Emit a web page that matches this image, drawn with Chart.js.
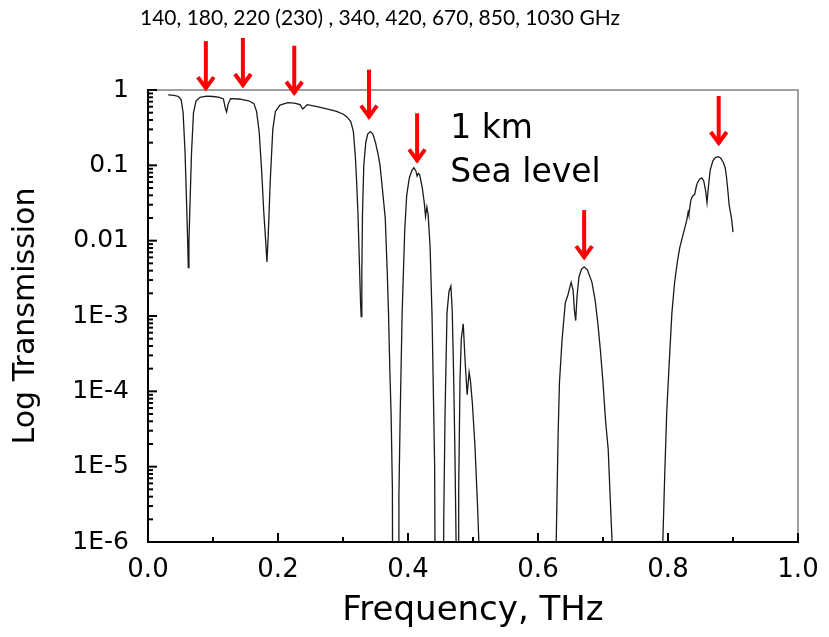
<!DOCTYPE html>
<html>
<head>
<meta charset="utf-8">
<script src="https://cdn.jsdelivr.net/npm/chart.js@4/dist/chart.umd.min.js"></script>
<style>
  html, body { margin: 0; padding: 0; background: #fff; }
  #wrap { width: 829px; height: 637px; }
</style>
</head>
<body>
<div id="wrap"><canvas id="myChart" width="829" height="637"></canvas></div>
<script>
// atmospheric transmission, 1 km at sea level
const freq = [
  0.031, 0.040, 0.047, 0.051, 0.054, 0.057, 0.059, 0.061, 0.062, 0.063, 0.065, 0.067, 0.070, 0.074, 0.080,
  0.090, 0.100, 0.110, 0.116, 0.119, 0.121, 0.123, 0.127, 0.140, 0.155, 0.163, 0.167, 0.171, 0.175, 0.178,
  0.181, 0.183, 0.185, 0.188, 0.192, 0.196, 0.203, 0.215, 0.225, 0.234, 0.238, 0.241, 0.245, 0.260, 0.275,
  0.290, 0.300, 0.306, 0.312, 0.316, 0.319, 0.321, 0.323, 0.325, 0.327, 0.328, 0.329, 0.330, 0.332, 0.335,
  0.338, 0.342, 0.346, 0.350, 0.354, 0.357, 0.361, 0.365, 0.368, 0.370, 0.372, 0.374, 0.376, 0.377,
  0.384, 0.385, 0.386, 0.388, 0.391, 0.395, 0.398, 0.402, 0.406, 0.409, 0.412, 0.414, 0.416, 0.418, 0.422,
  0.425, 0.427, 0.429, 0.431, 0.434, 0.437, 0.439, 0.441, 0.443,
  0.453, 0.455, 0.457, 0.460, 0.463, 0.466, 0.468, 0.470, 0.472, 0.474, 0.475,
  0.477, 0.478, 0.480, 0.482, 0.485, 0.488, 0.491, 0.494, 0.496, 0.499, 0.503, 0.507, 0.509, 0.510,
  0.627, 0.628, 0.631, 0.633, 0.637, 0.642, 0.646, 0.651, 0.654, 0.656, 0.658, 0.660, 0.663, 0.667, 0.671,
  0.676, 0.683, 0.688, 0.692, 0.696, 0.700, 0.704, 0.708, 0.711, 0.714, 0.715,
  0.791, 0.792, 0.795, 0.798, 0.802, 0.806, 0.810, 0.814, 0.818, 0.822, 0.826, 0.829, 0.831, 0.832, 0.835,
  0.837, 0.839, 0.841, 0.843, 0.845, 0.849, 0.852, 0.855, 0.858, 0.860, 0.862, 0.865, 0.869, 0.873, 0.877,
  0.881, 0.885, 0.888, 0.890, 0.892, 0.894, 0.896, 0.898, 0.900
];
const trans = [
  0.86, 0.85, 0.82, 0.74, 0.50, 0.15, 0.04, 0.010, 0.0044, 0.010, 0.04, 0.15, 0.50, 0.72, 0.80,
  0.83, 0.82, 0.80, 0.76, 0.57, 0.51, 0.64, 0.77, 0.76, 0.72, 0.66, 0.52, 0.28, 0.08, 0.025,
  0.010, 0.0052, 0.012, 0.06, 0.30, 0.52, 0.63, 0.68, 0.67, 0.64, 0.56, 0.59, 0.64, 0.60, 0.56,
  0.52, 0.48, 0.44, 0.38, 0.28, 0.13, 0.06, 0.023, 0.006, 0.0015, 0.00098, 0.004, 0.023, 0.10, 0.20,
  0.26, 0.28, 0.26, 0.20, 0.14, 0.10, 0.045, 0.020, 0.004, 0.0011, 0.0002, 0.00005, 0.000005, 1e-9,
  1e-9, 1e-9, 0.000004, 0.00005, 0.0011, 0.014, 0.04, 0.068, 0.085, 0.093, 0.085, 0.072, 0.078, 0.075, 0.05,
  0.032, 0.021, 0.028, 0.022, 0.0083, 0.001, 0.0001, 0.00001, 1e-9,
  1e-9, 0.000002, 0.00005, 0.0011, 0.0021, 0.0025, 0.0012, 0.0002, 0.00002, 0.000001, 1e-9,
  1e-9, 0.000005, 0.00014, 0.0005, 0.00079, 0.00024, 0.00009, 0.00018, 0.00014, 0.00007, 0.000019, 0.000003, 0.000001, 1e-9,
  1e-9, 0.000001, 0.000028, 0.00013, 0.00048, 0.0015, 0.0019, 0.0028, 0.0022, 0.0012, 0.00087, 0.0018, 0.0033, 0.0042, 0.0045,
  0.0041, 0.0028, 0.0016, 0.00081, 0.00035, 0.00013, 0.00004, 0.000017, 0.000004, 0.000001, 1e-9,
  1e-9, 0.000001, 0.000008, 0.000052, 0.00025, 0.0011, 0.0027, 0.005, 0.008, 0.011, 0.015, 0.019, 0.024, 0.022, 0.034,
  0.038, 0.040, 0.041, 0.05, 0.058, 0.066, 0.068, 0.062, 0.045, 0.032, 0.05, 0.087, 0.115, 0.127, 0.13,
  0.125, 0.11, 0.093, 0.07, 0.047, 0.03, 0.024, 0.019, 0.013
];

// window markers (red arrows): frequency and where the tip points
const arrowFreq = [0.089, 0.146, 0.225, 0.34, 0.414, 0.671, 0.878];
const arrowTip = [0.91, 1.0, 0.79, 0.38, 0.10, 0.0052, 0.17];

const yTickValues = [1e-6, 1e-5, 1e-4, 1e-3, 0.01, 0.1, 1];
const yTickLabels = ['1E-6', '1E-5', '1E-4', '1E-3', '0.01', '0.1', '1'];
const xTickLabels = ['0.0', '0.2', '0.4', '0.6', '0.8', '1.0'];

const topNote = '140, 180, 220 (230) , 340, 420, 670, 850, 1030 GHz';
const noteLines = ['1 km', 'Sea level'];
const noteFreq = 0.465;
const noteTrans = [0.23, 0.06];

const axisFont = 'DejaVu Sans';

function isMajorY(v){
  return yTickValues.some(t => Math.abs(v / t - 1) < 1e-6);
}

// box, inward ticks, arrows and text
const decorPlugin = {
  id: 'decor',
  afterDraw(chart){
    const ctx = chart.ctx;
    const a = chart.chartArea;
    const xs = chart.scales.x;
    const ys = chart.scales.y;
    ctx.save();

    // grey top/right frame
    ctx.strokeStyle = '#808080';
    ctx.lineWidth = 1.5;
    ctx.beginPath();
    ctx.moveTo(a.left, a.top);
    ctx.lineTo(a.right, a.top);
    ctx.lineTo(a.right, a.bottom);
    ctx.stroke();

    // inward ticks
    ctx.strokeStyle = '#000';
    ctx.lineWidth = 2;
    xs.ticks.forEach(t => {
      const px = xs.getPixelForValue(t.value);
      const major = Math.abs(Math.round(t.value * 5) - t.value * 5) < 1e-6;
      ctx.beginPath();
      ctx.moveTo(px, a.bottom);
      ctx.lineTo(px, a.bottom - (major ? 9 : 5));
      ctx.stroke();
    });
    ys.ticks.forEach(t => {
      const py = ys.getPixelForValue(t.value);
      const major = isMajorY(t.value);
      ctx.beginPath();
      ctx.moveTo(a.left, py);
      ctx.lineTo(a.left + (major ? 9 : 5), py);
      ctx.stroke();
    });

    // red arrows
    ctx.strokeStyle = '#ff0000';
    ctx.lineWidth = 4;
    ctx.lineJoin = 'miter';
    arrowFreq.forEach((f, i) => {
      const px = xs.getPixelForValue(f);
      const tip = ys.getPixelForValue(arrowTip[i]) - 2;
      ctx.beginPath();
      ctx.moveTo(px, tip - 50);
      ctx.lineTo(px, tip - 2);
      ctx.stroke();
      ctx.beginPath();
      ctx.moveTo(px - 8, tip - 14);
      ctx.lineTo(px, tip - 3);
      ctx.lineTo(px + 8, tip - 14);
      ctx.stroke();
    });

    // text
    ctx.fillStyle = '#000';
    ctx.textAlign = 'left';
    ctx.textBaseline = 'alphabetic';
    ctx.font = '33px ' + axisFont;
    noteLines.forEach((s, i) => {
      ctx.fillText(s, xs.getPixelForValue(noteFreq), ys.getPixelForValue(noteTrans[i]));
    });
    ctx.font = '21px Lato';
    ctx.fillText(topNote, 140, 25);

    ctx.restore();
  }
};

const ctx = document.querySelector('#myChart');
new Chart(ctx, {
  type: 'line',
  data: {
    datasets: [{
      label: 'Transmission',
      data: freq.map((f, i) => ({x: f, y: trans[i]})),
      borderColor: '#1a1a1a',
      borderWidth: 1.3,
      pointRadius: 0,
      tension: 0
    }]
  },
  options: {
    responsive: false,
    animation: false,
    layout: { padding: { top: 90, right: 31, bottom: 0, left: 0 } },
    plugins: {
      legend: { display: false },
      tooltip: { enabled: false }
    },
    scales: {
      x: {
        type: 'linear',
        min: 0,
        max: 1,
        grid: { display: false },
        border: { color: '#000', width: 2 },
        afterFit(s){ s.height = 95; },
        ticks: {
          stepSize: 0.1,
          autoSkip: false,
          maxRotation: 0,
          padding: 5,
          color: '#000',
          font: { family: axisFont, size: 26 },
          callback(v){
            const k = Math.round(v * 5);
            if (Math.abs(k - v * 5) > 1e-6) return '';
            return xTickLabels[k];
          }
        },
        title: {
          display: true,
          text: 'Frequency, THz',
          color: '#000',
          font: { family: axisFont, size: 34 },
          padding: { top: 0, bottom: 5 }
        }
      },
      y: {
        type: 'logarithmic',
        min: 1e-6,
        max: 1,
        grid: { display: false },
        border: { color: '#000', width: 2 },
        afterFit(s){ s.width = 148; },
        afterBuildTicks(s){
          const t = [];
          for (let e = -6; e <= 0; e++) {
            for (let m = 1; m <= 9; m++) {
              if (e === 0 && m > 1) break;
              t.push({ value: m * Math.pow(10, e) });
            }
          }
          s.ticks = t;
        },
        ticks: {
          autoSkip: false,
          padding: 11,
          color: '#000',
          font: { family: axisFont, size: 25 },
          callback(v){
            const i = yTickValues.findIndex(t => Math.abs(v / t - 1) < 1e-6);
            return i < 0 ? '' : yTickLabels[i];
          }
        },
        title: {
          display: true,
          text: 'Log Transmission',
          color: '#000',
          font: { family: axisFont, size: 30 },
          padding: { top: 8, bottom: 0 }
        }
      }
    }
  },
  plugins: [decorPlugin]
});
</script>
</body>
</html>
